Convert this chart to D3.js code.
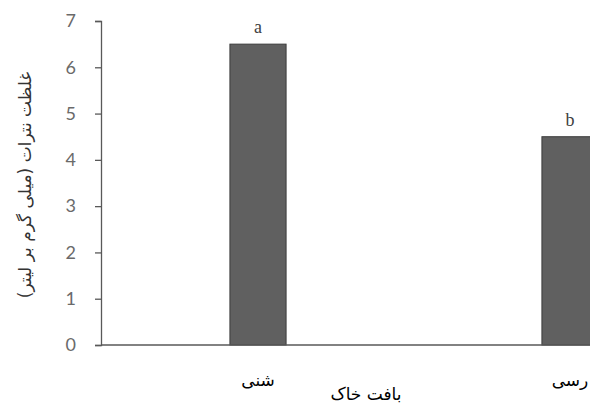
<!DOCTYPE html>
<html>
<head>
<meta charset="utf-8">
<script src="https://cdn.jsdelivr.net/npm/d3@7/dist/d3.min.js"></script>
<style>
  html, body { margin: 0; padding: 0; background: #fff; overflow: hidden; }
  svg { display: block; }
</style>
</head>
<body>
<svg id="chart" width="590" height="406"></svg>
<script>
// Soil texture categories and nitrate concentration (mg/L)
const categories = ["شنی", "رسی"];
const values = [6.5, 4.5];
const letters = ["a", "b"];
const yTicks = [0, 1, 2, 3, 4, 5, 6, 7];
const yTitle = "غلظت نترات (میلی گرم بر لیتر)";
const xTitle = "بافت خاک";

const svg = d3.select("#chart");
const margin = { left: 101, top: 21 };
const plotBottom = 345;

const x = d3.scaleBand()
  .domain(categories)
  .range([margin.left + 1, margin.left + 1 + 2 * 312])
  .paddingInner(0.82)
  .paddingOuter(0.41);

const y = d3.scaleLinear().domain([0, 7]).range([plotBottom, margin.top]);

// Bars
svg.selectAll("rect.bar")
  .data(values)
  .join("rect")
  .attr("class", "bar")
  .attr("x", (d, i) => x(categories[i]))
  .attr("y", d => y(d))
  .attr("width", x.bandwidth())
  .attr("height", d => plotBottom - y(d))
  .attr("fill", "#606060")
  .attr("stroke", "#3c3c3c")
  .attr("stroke-width", 1);

// Significance letters
svg.selectAll("text.letter")
  .data(values)
  .join("text")
  .attr("class", "letter")
  .attr("x", (d, i) => x(categories[i]) + x.bandwidth() / 2)
  .attr("y", d => y(d) - 11)
  .attr("text-anchor", "middle")
  .attr("font-family", "Liberation Serif, serif")
  .attr("font-size", 18)
  .attr("fill", "#404040")
  .text((d, i) => letters[i]);

// Y axis
const yAxis = d3.axisLeft(y).tickValues(yTicks).tickSize(6).tickPadding(19).tickFormat(d3.format("d"));
const gy = svg.append("g").attr("transform", `translate(${margin.left},0)`).call(yAxis);
gy.select(".domain").attr("stroke", "#595959").attr("stroke-width", 1.3);
gy.selectAll(".tick line").attr("stroke", "#595959").attr("stroke-width", 1.3);
gy.selectAll(".tick text")
  .attr("font-family", "Lato, Open Sans, sans-serif")
  .attr("font-size", 18)
  .attr("fill", "#6a6a6a");

// X axis baseline
const gx = svg.append("g").attr("transform", `translate(0,${plotBottom})`)
  .call(d3.axisBottom(x).tickSize(0).tickPadding(29));
gx.select(".domain").attr("d", `M${margin.left},0H590`).attr("stroke", "#595959").attr("stroke-width", 1.3);
gx.selectAll(".tick text")
  .attr("font-family", "DejaVu Sans, sans-serif")
  .attr("font-size", 17)
  .attr("fill", "#000")
  .attr("direction", "rtl");

// Axis titles
svg.append("text")
  .attr("transform", `translate(26,${(63 + 307) / 2}) rotate(-90)`)
  .attr("text-anchor", "middle")
  .attr("dominant-baseline", "middle")
  .attr("font-family", "DejaVu Sans, sans-serif")
  .attr("font-size", 17)
  .attr("fill", "#333")
  .attr("direction", "rtl")
  .text(yTitle);

svg.append("text")
  .attr("x", 366)
  .attr("y", 400)
  .attr("text-anchor", "middle")
  .attr("font-family", "DejaVu Sans, sans-serif")
  .attr("font-size", 17)
  .attr("fill", "#000")
  .attr("direction", "rtl")
  .text(xTitle);
</script>
</body>
</html>
